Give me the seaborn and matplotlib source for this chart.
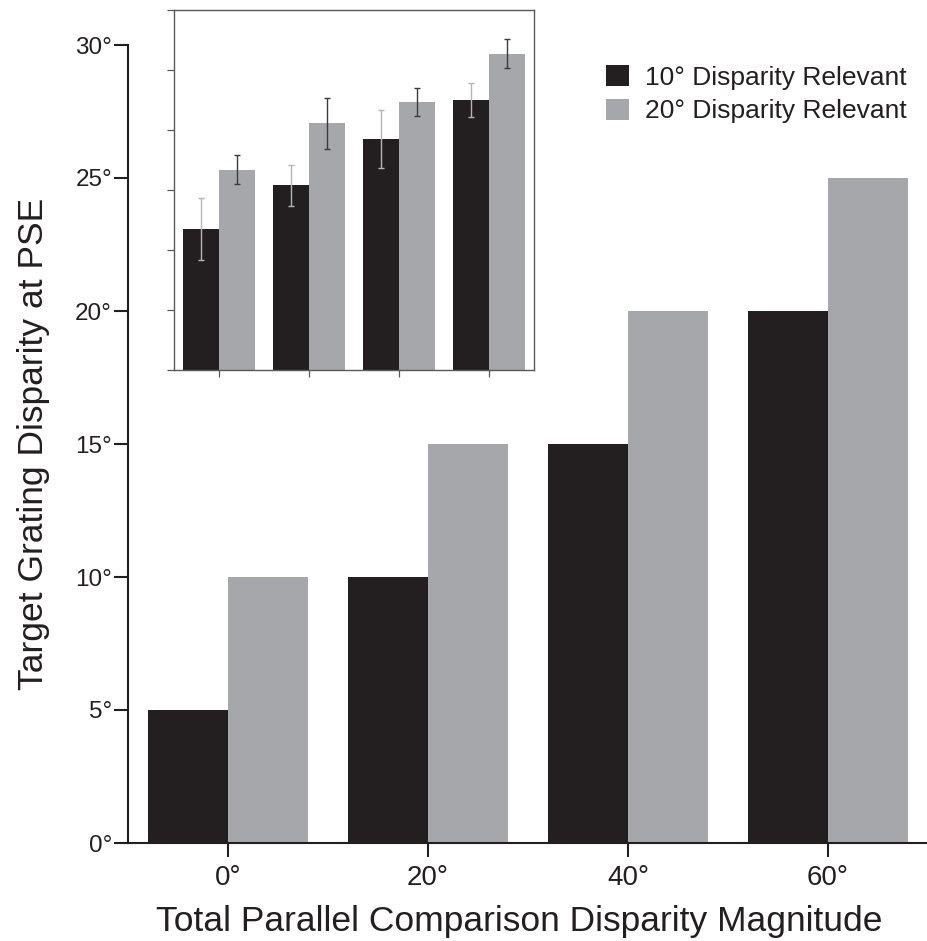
import matplotlib
matplotlib.use("Agg")
import matplotlib.pyplot as plt
import seaborn as sns
import pandas as pd
from matplotlib.patches import Patch

# ---------------- data ----------------
comparison = ["0°", "20°", "40°", "60°"]
conditions = ["10° Disparity Relevant", "20° Disparity Relevant"]
pse_10 = [5, 10, 15, 20]
pse_20 = [10, 15, 20, 25]

inset_10 = [2.35, 3.08, 3.85, 4.50]
inset_10_err = [0.52, 0.34, 0.49, 0.29]
inset_20 = [3.34, 4.11, 4.47, 5.27]
inset_20_err = [0.24, 0.43, 0.23, 0.24]

y_ticks = [0, 5, 10, 15, 20, 25, 30]
inset_y_ticks = [0, 1, 2, 3, 4, 5, 6]

# ---------------- style ----------------
sns.set_style("white")
plt.rcParams["font.family"] = ["Liberation Sans", "DejaVu Sans"]
TXT = "#231f20"
BLACK = "#231f20"
GRAY = "#a6a7ab"
plt.rcParams["text.color"] = TXT
plt.rcParams["axes.labelcolor"] = TXT
plt.rcParams["xtick.color"] = TXT
plt.rcParams["ytick.color"] = TXT

df_main = pd.DataFrame({
    "comparison": comparison * 2,
    "condition": [conditions[0]] * 4 + [conditions[1]] * 4,
    "value": pse_10 + pse_20,
})
df_inset = pd.DataFrame({
    "comparison": comparison * 2,
    "condition": [conditions[0]] * 4 + [conditions[1]] * 4,
    "value": inset_10 + inset_20,
})

fig = plt.figure(figsize=(9.27, 9.41), dpi=100)
ax = fig.add_axes([128 / 927, (941 - 843) / 941, 800 / 927, (843 - 45) / 941])

sns.barplot(data=df_main, x="comparison", y="value", hue="condition",
            order=comparison, hue_order=conditions,
            palette=[BLACK, GRAY], saturation=1, width=0.8,
            errorbar=None, legend=False, ax=ax, linewidth=0)
ax.set_xlim(-0.5, 3.5)
ax.set_ylim(0, 30)
ax.set_yticks(y_ticks)
ax.set_yticklabels([f"{v}°" for v in y_ticks], fontsize=17.5)
ax.tick_params(axis="x", labelsize=20, length=10, width=1.5, pad=6,
               direction="out", bottom=True)
ax.tick_params(axis="y", length=10, width=1.5, pad=1.5, direction="out", left=True)
ax.set_xlabel("Total Parallel Comparison Disparity Magnitude", fontsize=25.5)
ax.set_ylabel("Target Grating Disparity at PSE", fontsize=25.5)
ax.xaxis.set_label_coords(0.489, -0.078)
ax.yaxis.set_label_coords(-0.098, 0.5)
for s in ["top", "right"]:
    ax.spines[s].set_visible(False)
for s in ["left", "bottom"]:
    ax.spines[s].set_color(TXT)
    ax.spines[s].set_linewidth(1.5)

# ---------------- inset ----------------
axi = fig.add_axes([174 / 927, (941 - 370) / 941, 360 / 927, 360 / 941])
axi.set_facecolor("white")
sns.barplot(data=df_inset, x="comparison", y="value", hue="condition",
            order=comparison, hue_order=conditions,
            palette=[BLACK, GRAY], saturation=1, width=0.8,
            errorbar=None, legend=False, ax=axi, linewidth=0)
axi.set_xlim(-0.5, 3.5)
axi.set_ylim(0, 6)
axi.set_yticks(inset_y_ticks)
axi.set_yticklabels([])
axi.set_xticks(range(len(comparison)))
axi.set_xticklabels([])
axi.set_xlabel("")
axi.set_ylabel("")
ICOL = "#58595b"
axi.tick_params(axis="both", length=5, width=0.9, color=ICOL, direction="out",
                left=True, bottom=True)
for s in axi.spines.values():
    s.set_visible(True)
    s.set_color(ICOL)
    s.set_linewidth(1.0)

patches = sorted([p for p in axi.patches if p.get_height() > 0],
                 key=lambda p: p.get_x())
means = []
errs = []
for i in range(len(comparison)):
    means += [inset_10[i], inset_20[i]]
    errs += [inset_10_err[i], inset_20_err[i]]
for k, p in enumerate(patches):
    xc = p.get_x() + p.get_width() / 2
    col = "#b3b5b8" if k % 2 == 0 else "#3a3a3c"
    axi.errorbar([xc], [means[k]], yerr=[errs[k]], fmt="none", ecolor=col,
                 elinewidth=1.0, capsize=1.9, capthick=1.0, zorder=5)

# ---------------- legend ----------------
handles = [Patch(facecolor=BLACK, edgecolor="none"),
           Patch(facecolor=GRAY, edgecolor="none")]
fig.legend(handles, conditions, loc="upper left",
           bbox_to_anchor=(606 / 927, 1 - 65 / 941), frameon=False,
           fontsize=19, handlelength=0.87, handleheight=0.87,
           handletextpad=0.6, labelspacing=0.33, borderpad=0, borderaxespad=0)

fig.savefig("out.png", dpi=100)
